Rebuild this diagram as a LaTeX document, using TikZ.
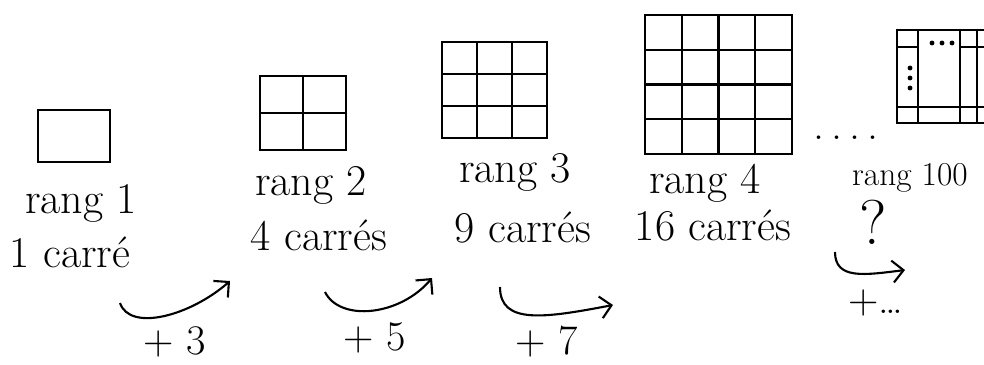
\documentclass[tikz,border=0pt]{standalone}
\usepackage{tikz}
\usetikzlibrary{arrows.meta,positioning,calc}

\begin{document}
\begin{tikzpicture}[
      x=0.02cm, y=-0.02cm,
      carre/.style={draw, line width=1.3pt, inner sep=0pt, outer sep=0pt},
      trait/.style={line width=1.3pt},
      lbl/.style={font=\fontsize{25}{30}\selectfont, inner sep=1pt, anchor=base},
      plus/.style={font=\fontsize{24}{28}\selectfont, inner sep=1pt},
      arr/.style={-{Straight Barb[length=2.2mm,width=4.4mm]}, line width=1.2pt}
    ]
      \useasboundingbox (0,0) rectangle (984,365);
      \clip (0,0) rectangle (984,365);

      % les figures
      \node[carre, minimum width=1.44cm, minimum height=1.04cm] (g1) at (74,136) {};
      \node[carre, minimum width=1.72cm, minimum height=1.48cm] (g2) at (303,113) {};
      \node[carre, minimum width=2.10cm, minimum height=1.92cm] (g3) at (494.5,90) {};
      \node[carre, minimum width=2.94cm, minimum height=2.78cm] (g4) at (718.5,84.5) {};
      \node[carre, minimum width=2.26cm, minimum height=1.86cm] (g100) at (953.5,76.5) {};

      \foreach \g/\n in {g2/2, g3/3, g4/4} {
        \pgfmathtruncatemacro\m{\n-1}
        \foreach \k in {1,...,\m} {
          \pgfmathsetmacro\f{\k/\n}
          \draw[trait] ($(\g.north west)!\f!(\g.north east)$) -- ($(\g.south west)!\f!(\g.south east)$);
          \draw[trait] ($(\g.north west)!\f!(\g.south west)$) -- ($(\g.north east)!\f!(\g.south east)$);
        }
      }

      % rang 100 : grille coupee
      \draw[trait] (918,30) -- (918,123);
      \draw[trait] (960,30) -- (960,123);
      \draw[trait] (977,30) -- (977,123);
      \draw[trait] (897,47) -- (918,47);
      \draw[trait] (960,47) -- (984,47);
      \draw[trait] (897,107) -- (984,107);
      \foreach \x in {932,942,952} \fill (\x,43) circle (1.4pt);
      \foreach \y in {68,78,88} \fill (910,\y) circle (1.4pt);

      % textes
      \node[lbl] (r1) at (81,213) {rang 1};
      \node[lbl] (c1) at (70,267) {1 carré};
      \node[lbl] (r2) at (311,195) {rang 2};
      \node[lbl] (c2) at (319,250) {4 carrés};
      \node[lbl] (r3) at (515,182) {rang 3};
      \node[lbl] (c3) at (523,242) {9 carrés};
      \node[lbl] (r4) at (705,193) {rang 4};
      \node[lbl] (c4) at (713,240) {16 carrés};
      \node[lbl, anchor=base west, font=\fontsize{19}{23}\selectfont] (r100) at (850,185) {rang 100};
      \node[lbl] (pts) at (846,139) {.\,.\,.\,.};
      \node[font=\fontsize{36}{40}\selectfont, inner sep=0pt] (q) at (873,222) {?};

      % fleches
      \coordinate (a1) at (120,303);
      \coordinate (b1) at (230,281);
      \coordinate (a2) at (325,292);
      \coordinate (b2) at (432,278);
      \coordinate (a3) at (500,287);
      \coordinate (b3) at (613,305);
      \coordinate (a4) at (835,252);
      \coordinate (b4) at (905,270);
      \draw[arr] (a1) .. controls (130,332) and (190,316) .. (b1);
      \draw[arr] (a2) .. controls (340,322) and (400,316) .. (b2);
      \draw[arr] (a3) .. controls (500,325) and (545,318) .. (b3);
      \draw[arr] (a4) .. controls (835,280) and (865,275) .. (b4);

      \node[plus] (p3) at (175,342) {+ 3};
      \node[plus] (p5) at (375,338) {+ 5};
      \node[plus] (p7) at (547,342) {+ 7};
      \node[plus] (pn) at (876,303) {+\dots};
    \end{tikzpicture}
\end{document}
